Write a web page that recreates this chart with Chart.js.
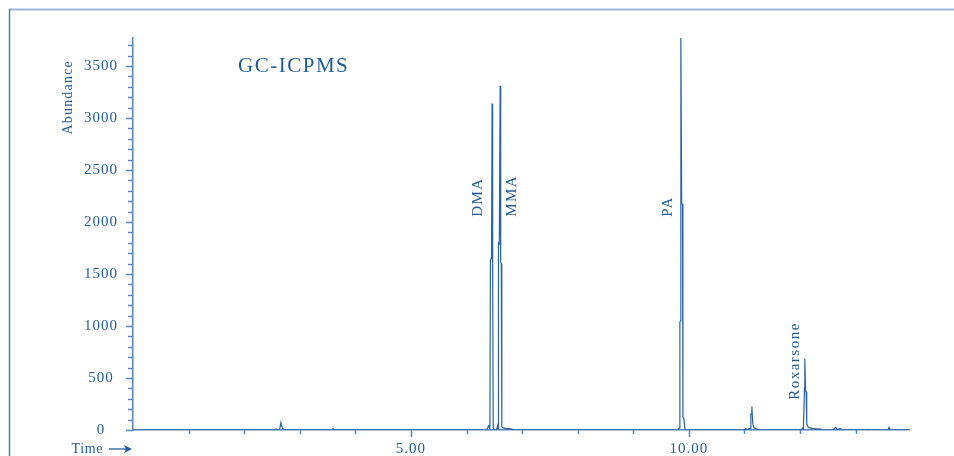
<!DOCTYPE html>
<html>
<head>
<meta charset="utf-8">
<script src="https://cdn.jsdelivr.net/npm/chart.js@4"></script>
<style>
  html, body { margin: 0; padding: 0; background: #fff; }
  #wrap { width: 954px; height: 456px; position: relative; }
</style>
</head>
<body>
<div id="wrap"><canvas id="gcChart"></canvas></div>
<script>
// chromatogram trace (time in min, abundance in counts)
const times = [
  0.00, 2.50, 2.58, 2.62, 2.64, 2.66, 2.69, 2.72, 3.58, 3.60, 3.62,
  6.36, 6.40, 6.42, 6.43, 6.45, 6.46, 6.47, 6.48, 6.50,
  6.54, 6.56, 6.57, 6.575, 6.59, 6.605, 6.615, 6.625, 6.635, 6.66, 6.70, 6.80, 6.86,
  9.80, 9.83, 9.838, 9.85, 9.856, 9.87, 9.886, 9.893, 9.91, 9.93, 9.96,
  11.00, 11.025, 11.05, 11.10, 11.115, 11.125, 11.133, 11.15, 11.17, 11.22, 11.27,
  12.02, 12.045, 12.06, 12.08, 12.086, 12.10, 12.11, 12.12, 12.15, 12.22, 12.30, 12.36, 12.40,
  12.60, 12.64, 12.67, 12.72, 12.76, 13.20, 13.22, 13.24, 13.58, 13.60, 13.63, 13.96
];
const abundance = [
  0, 0, 8, 0, 10, 70, 15, 0, 0, 15, 0,
  0, 40, 10, 1640, 1650, 3140, 1600, 20, 0,
  0, 40, 10, 1800, 1790, 3310, 1610, 1600, 30, 20, 15, 10, 0,
  0, 20, 1040, 1050, 3800, 2180, 2170, 120, 110, 10, 0,
  0, 12, 5, 15, 153, 150, 225, 60, 20, 10, 0,
  0, 20, 10, 400, 686, 370, 368, 60, 25, 15, 10, 12, 0,
  0, 25, 5, 15, 0, 0, 6, 0, 0, 25, 0, 0
];

// axis ticks
const xTickValues = [1, 2, 3, 4, 5, 6, 7, 8, 9, 10, 11, 12, 13];
const xLabelValues = [5, 10];
const xLabelText = ['5.00', '10.00'];
const yLabelValues = [0, 500, 1000, 1500, 2000, 2500, 3000, 3500];

// compound labels: name, retention time of label, abundance at label foot
const peakNames = ['DMA', 'MMA', 'PA', 'Roxarsone'];
const peakLabelTimes = [6.21, 6.82, 9.62, 11.91];
const peakLabelBase = [2050, 2050, 2050, 290];

const blue = '#1f5c9b';
const axisBlue = '#5685bd';
const serif = '"Liberation Serif", "DejaVu Serif", serif';

const points = times.map((t, i) => ({ x: t, y: abundance[i] }));

const decorations = {
  id: 'decorations',
  beforeDraw(chart) {
    const c = chart.ctx;
    c.save();
    c.fillStyle = '#fff';
    c.fillRect(0, 0, chart.width, chart.height);
    // page frame (top and left rules)
    c.strokeStyle = '#9bb6d8';
    c.lineWidth = 2;
    c.beginPath(); c.moveTo(9, 9.5); c.lineTo(chart.width, 9.5); c.stroke();
    c.strokeStyle = '#4f7fb8';
    c.lineWidth = 1.5;
    c.beginPath(); c.moveTo(9.5, 9); c.lineTo(9.5, chart.height); c.stroke();
    c.restore();
    c.letterSpacing = '1px';
  },
  afterDraw(chart) {
    const c = chart.ctx;
    const xs = chart.scales.x, ys = chart.scales.y;
    const left = chart.chartArea.left, bottom = chart.chartArea.bottom;
    c.save();
    c.strokeStyle = axisBlue;
    c.lineWidth = 1.5;
    // y ticks every 100, longer at labelled values
    for (let v = 0; v <= ys.max; v += 100) {
      const py = Math.round(ys.getPixelForValue(v)) + 0.5;
      const len = v % 500 === 0 ? 7 : 5;
      c.beginPath(); c.moveTo(left - len, py); c.lineTo(left, py); c.stroke();
    }
    xTickValues.forEach(v => {
      const px = Math.round(xs.getPixelForValue(v)) + 0.5;
      const len = xLabelValues.includes(v) ? 7 : 4;
      c.beginPath(); c.moveTo(px, bottom); c.lineTo(px, bottom + len); c.stroke();
    });

    c.fillStyle = blue;
    // title
    c.letterSpacing = '1.5px';
    c.font = '21px ' + serif;
    c.textAlign = 'left';
    c.textBaseline = 'middle';
    c.fillText('GC-ICPMS', xs.getPixelForValue(1.89), ys.getPixelForValue(3500));

    // compound names, rotated
    c.font = '15px ' + serif;
    peakNames.forEach((name, i) => {
      c.save();
      c.translate(xs.getPixelForValue(peakLabelTimes[i]), ys.getPixelForValue(peakLabelBase[i]));
      c.rotate(-Math.PI / 2);
      c.textAlign = 'left';
      c.textBaseline = 'middle';
      c.fillText(name, 0, 0);
      c.restore();
    });

    // y axis title near the top
    c.font = '14px ' + serif;
    c.letterSpacing = '1.2px';
    c.save();
    c.translate(left - 65, ys.getPixelForValue(3200));
    c.rotate(-Math.PI / 2);
    c.textAlign = 'center';
    c.fillText('Abundance', 0, 0);
    c.restore();

    // Time -> under the axis origin
    c.letterSpacing = '0.6px';
    c.textAlign = 'right';
    c.fillText('Time', left - 30, bottom + 19);
    c.strokeStyle = blue;
    c.lineWidth = 1.3;
    c.beginPath(); c.moveTo(left - 24, bottom + 19); c.lineTo(left - 4, bottom + 19); c.stroke();
    c.beginPath();
    c.moveTo(left - 1, bottom + 19);
    c.lineTo(left - 9, bottom + 15);
    c.lineTo(left - 7, bottom + 19);
    c.lineTo(left - 9, bottom + 23);
    c.closePath();
    c.fill();
    c.restore();
  }
};

new Chart(document.getElementById('gcChart'), {
  type: 'scatter',
  data: {
    datasets: [{
      data: points,
      showLine: true,
      borderColor: '#2a63a5',
      borderWidth: 1.2,
      pointRadius: 0,
      tension: 0
    }]
  },
  options: {
    responsive: true,
    maintainAspectRatio: false,
    animation: false,
    layout: { padding: { top: 38, right: 45, left: 0, bottom: 0 } },
    scales: {
      x: {
        type: 'linear',
        min: 0,
        max: 13.96,
        afterFit(scale) { scale.height = 26; },
        grid: { display: false, drawTicks: false },
        border: { display: true, color: axisBlue, width: 1.5 },
        ticks: {
          stepSize: 1,
          autoSkip: false,
          maxRotation: 0,
          padding: 10,
          color: blue,
          font: { family: serif, size: 15 },
          callback: v => {
            const k = xLabelValues.indexOf(v);
            return k >= 0 ? xLabelText[k] : '';
          }
        }
      },
      y: {
        min: 0,
        max: 3770,
        afterFit(scale) { scale.width = 133; },
        grid: { display: false, drawTicks: false },
        border: { display: true, color: axisBlue, width: 1.5 },
        ticks: {
          stepSize: 100,
          autoSkip: false,
          crossAlign: 'center',
          padding: 17,
          color: blue,
          font: { family: serif, size: 15 },
          callback: v => yLabelValues.includes(v) ? String(v) : ''
        }
      }
    },
    plugins: {
      legend: { display: false },
      tooltip: { enabled: false }
    }
  },
  plugins: [decorations]
});
</script>
</body>
</html>
